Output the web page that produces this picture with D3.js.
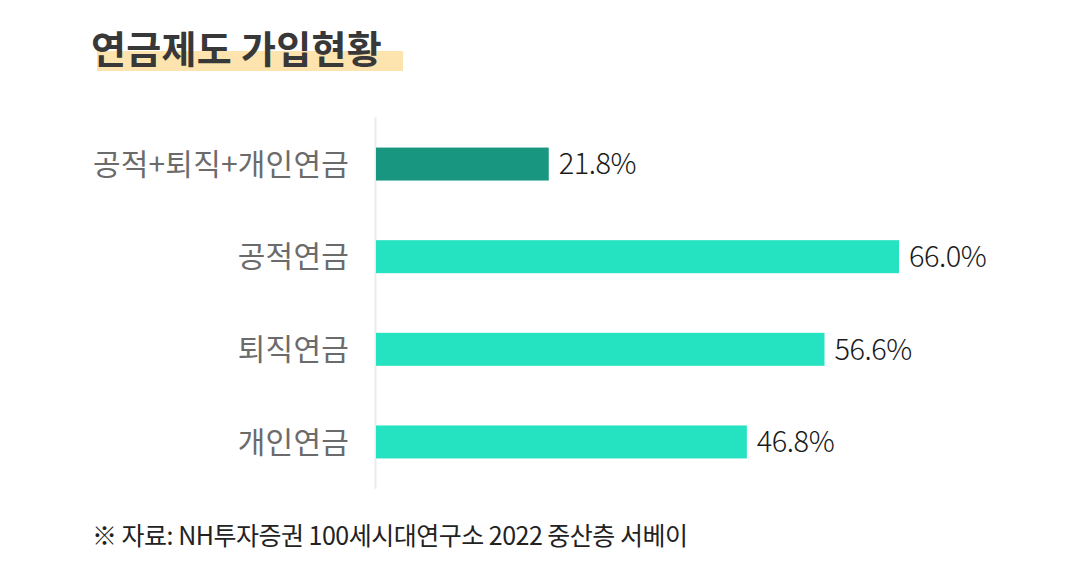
<!DOCTYPE html>
<html>
<head>
<meta charset="utf-8">
<script src="https://cdn.jsdelivr.net/npm/d3@7"></script>
<style>
  html, body { margin: 0; padding: 0; background: #fff; }
  svg { display: block; font-family: 'Noto Sans CJK KR', 'Noto Sans', sans-serif; }
</style>
</head>
<body>
<svg id="chart" width="1079" height="572"></svg>
<script>
// data
const categories = ['공적+퇴직+개인연금', '공적연금', '퇴직연금', '개인연금']
const values = [21.8, 66.0, 56.6, 46.8]
const valueLabels = ['21.8%', '66.0%', '56.6%', '46.8%']
const title = '연금제도 가입현황'
const source = '※ 자료: NH투자증권 100세시대연구소 2022 중산층 서베이'

const data = categories.map((c, i) => ({ cat: c, val: values[i], label: valueLabels[i] }))

const svg = d3.select('#chart')

// title with highlight underlay
svg.append('rect')
  .attr('x', 97).attr('y', 51)
  .attr('width', 306).attr('height', 20)
  .attr('fill', '#fde4ae')

svg.append('text')
  .attr('x', 91).attr('y', 63)
  .attr('font-size', 38).attr('font-weight', 600)
  .attr('fill', '#383838')
  .attr('letter-spacing', '0.3px')
  .text(title)

// scales
const x = d3.scaleLinear()
  .domain([0, 66])
  .range([376, 899])

const y = d3.scaleBand()
  .domain(categories)
  .range([117, 489])
  .paddingInner(0.644)
  .paddingOuter(0.33)

// left axis line only
svg.append('line')
  .attr('x1', 375.5).attr('x2', 375.5)
  .attr('y1', y.range()[0]).attr('y2', y.range()[1])
  .attr('stroke', '#ececec').attr('stroke-width', 2)

// category labels
svg.append('g')
  .selectAll('text')
  .data(data)
  .join('text')
    .attr('x', 349)
    .attr('y', d => y(d.cat) + y.bandwidth() / 2)
    .attr('dy', '0.36em')
    .attr('text-anchor', 'end')
    .attr('font-size', 30)
    .attr('fill', '#6b6b6b')
    .attr('letter-spacing', '0.2px')
    .text(d => d.cat)

// bars
svg.append('g')
  .selectAll('rect')
  .data(data)
  .join('rect')
    .attr('x', x(0))
    .attr('y', d => y(d.cat))
    .attr('width', d => x(d.val) - x(0))
    .attr('height', y.bandwidth())
    .attr('fill', (d, i) => i === 0 ? '#189680' : '#25e2c0')

// value labels
svg.append('g')
  .selectAll('text')
  .data(data)
  .join('text')
    .attr('x', d => x(d.val) + 10)
    .attr('y', d => y(d.cat) + y.bandwidth() / 2)
    .attr('dy', '0.36em')
    .attr('font-size', 29)
    .attr('font-weight', 300)
    .attr('fill', '#1a1a1a')
    .attr('letter-spacing', '-0.5px')
    .text(d => d.label)

// source note
svg.append('text')
  .attr('x', 92).attr('y', 545)
  .attr('font-size', 25)
  .attr('fill', '#222')
  .attr('letter-spacing', '-0.5px')
  .text(source)
</script>
</body>
</html>
